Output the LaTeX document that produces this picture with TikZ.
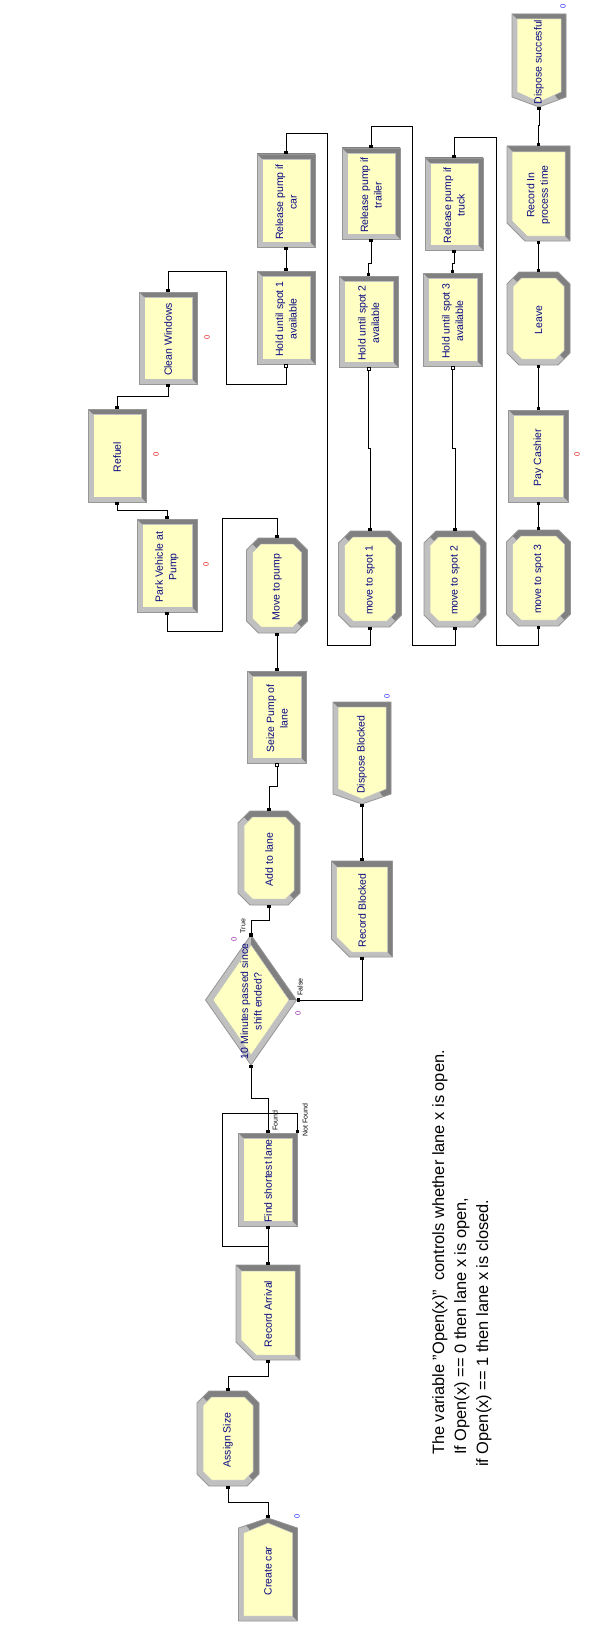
\documentclass[tikz,border=0pt]{standalone}
\usepackage{fontspec}
\setmainfont{Liberation Sans}
\usetikzlibrary{calc}

\definecolor{modfill}{RGB}{255,255,196}
\definecolor{modlight}{RGB}{192,192,192}
\definecolor{moddark}{RGB}{128,128,128}
\definecolor{modedge}{RGB}{150,150,150}
\definecolor{modtext}{RGB}{10,10,130}
\definecolor{cntblue}{RGB}{40,40,255}
\definecolor{cntred}{RGB}{230,30,30}
\definecolor{cntpurple}{RGB}{150,40,170}

\tikzset{
  modbox/.style={draw=none, inner sep=0pt, outer sep=0pt, rectangle},
  modlabel/.style={text=modtext, font=\fontsize{10.5}{13.5}\selectfont, align=center, rotate=90, inner sep=0pt},
  counter/.style={font=\fontsize{7.5}{8}\selectfont, rotate=90, inner sep=0pt},
  tag/.style={font=\fontsize{7}{8}\selectfont, rotate=90, inner sep=0pt},
  conn/.style={draw=black, line width=1pt},
  noteline/.style={font=\fontsize{16.4}{20}\selectfont, rotate=90, inner sep=0pt, anchor=base west},
}

% outlines of the module shapes (y grows downwards)
\def\rectouter{(\xa,\ya) rectangle (\xb,\yb)}
\def\rectinner{(\xa+5,\ya+5) rectangle (\xb-5,\yb-5)}
\def\octouter{(\xa+12,\ya) -- (\xb-12,\ya) -- (\xb,\ya+12) -- (\xb,\yb-12) -- (\xb-12,\yb) -- (\xa+12,\yb) -- (\xa,\yb-12) -- (\xa,\ya+12) -- cycle}
\def\octinner{(\xa+14.5,\ya+6) -- (\xb-14.5,\ya+6) -- (\xb-6,\ya+14.5) -- (\xb-6,\yb-14.5) -- (\xb-14.5,\yb-6) -- (\xa+14.5,\yb-6) -- (\xa+6,\yb-14.5) -- (\xa+6,\ya+14.5) -- cycle}
\def\recouter{(\xa,\ya) -- (\xb,\ya) -- (\xb,\yb) -- (\xa+18,\yb) -- (\xa,\yb-18) -- cycle}
\def\recinner{(\xa+5,\ya+6) -- (\xb-5,\ya+6) -- (\xb-5,\yb-5) -- (\xa+20,\yb-5) -- (\xa+5,\yb-20) -- cycle}
\def\creouter{(\xa,\ya+10) -- (\cx,\ya) -- (\xb,\ya+10) -- (\xb,\yb) -- (\xa,\yb) -- cycle}
\def\creinner{(\xa+5,\ya+15) -- (\cx,\ya+5) -- (\xb-5,\ya+15) -- (\xb-5,\yb-5) -- (\xa+5,\yb-5) -- cycle}
\def\disouter{(\xa,\ya) -- (\xb,\ya) -- (\xb,\yb-10) -- (\cx,\yb) -- (\xa,\yb-10) -- cycle}
\def\disinner{(\xa+5,\ya+5) -- (\xb-5,\ya+5) -- (\xb-5,\yb-15) -- (\cx,\yb-5) -- (\xa+5,\yb-15) -- cycle}
\def\decouter{(\cx,\ya) -- (\xb,\cy) -- (\cx,\yb) -- (\xa,\cy) -- cycle}
\def\decinner{(\cx,\ya+10) -- (\xb-7.5,\cy) -- (\cx,\yb-10) -- (\xa+7.5,\cy) -- cycle}

% shaded side of the bevel: top and right for boxes, upper right edge for the diamond
\def\rectshade{(\xa-20,\ya-20) -- (\xa+10,\ya+10) -- (\xb-10,\yb-10) -- (\xb+20,\yb+20) -- (\xb+20,\ya-20) -- cycle}
\let\octshade\rectshade
\let\recshade\rectshade
\let\creshade\rectshade
\let\disshade\rectshade
\def\decshade{(\cx,\ya-20) -- (\cx,\cy) -- (\xb+20,\cy) -- (\xb+20,\ya-20) -- cycle}

% #1 shape, #2 name, #3 cx, #4 cy, #5 width, #6 height, #7 text
\newcommand\armod[7]{%
  \pgfmathsetmacro\cx{#3}\pgfmathsetmacro\cy{#4}%
  \pgfmathsetmacro\xa{#3-#5/2}\pgfmathsetmacro\xb{#3+#5/2}%
  \pgfmathsetmacro\ya{#4-#6/2}\pgfmathsetmacro\yb{#4+#6/2}%
  \begin{scope}
    \clip \csname #1outer\endcsname;
    \fill[modlight] (\xa-20,\ya-20) rectangle (\xb+20,\yb+20);
    \fill[moddark] \csname #1shade\endcsname;
  \end{scope}
  \draw[modedge, line width=0.8pt] \csname #1outer\endcsname;
  \fill[modfill] \csname #1inner\endcsname;
  \draw[modedge!60, line width=0.5pt] \csname #1inner\endcsname;
  \node[modbox, minimum width=#5pt, minimum height=#6pt] (#2) at (#3,#4) {};
  \node[modlabel] at ([yshift=-1.5pt]#2.center) {#7};
}

% connector end markers
\newcommand\sq[1]{\fill (#1) ++(-1.6,-1.6) rectangle ++(3.2,3.2);}
\newcommand\hsq[1]{\filldraw[fill=white, draw=black, line width=0.6pt] (#1) ++(-1.6,-1.6) rectangle ++(3.2,3.2);}

\begin{document}
\begin{tikzpicture}[x=1pt, y=-1pt]
\fill[white] (0,0) rectangle (614,1640);
\useasboundingbox (0,0) rectangle (614,1640);

% ---- modules ----
\armod{cre}{createcar}{268}{1569.5}{59}{103}{Create car}
\armod{oct}{assignsize}{228}{1438.5}{62}{95}{Assign Size}
\armod{rec}{recarrival}{268}{1312.5}{64}{95}{Record Arrival}
\armod{rect}{findlane}{268}{1179.5}{59}{93}{Find shortest lane}
\armod{dec}{decide}{251}{1000}{91}{130}{10 Minutes passed since\\shift ended?}
\armod{oct}{addlane}{269}{858}{62}{94}{Add to lane}
\armod{rec}{recblocked}{362}{909}{61}{96}{Record Blocked}
\armod{dis}{dispblocked}{362}{753}{58}{102}{Dispose Blocked}
\armod{rect}{seizepump}{277}{717}{59}{92}{Seize Pump of\\lane}
\armod{oct}{movepump}{277}{585.5}{61}{95}{Move to pump}
\armod{rect}{park}{167}{565.5}{60}{93}{Park Vehicle at\\Pump}
\armod{rect}{refuel}{117}{455.5}{58}{93}{Refuel}
\armod{rect}{clean}{168}{338}{58}{92}{Clean Windows}
\armod{rect}{holda}{286}{317.5}{58}{93}{Hold until spot 1\\available}
\armod{rect}{rela}{286}{200.5}{58}{93}{Release pump if\\car}
\armod{oct}{mva}{370}{579}{63}{96}{move to spot 1}
\armod{rect}{holdb}{368.5}{321.5}{59}{91}{Hold until spot 2\\available}
\armod{rect}{relb}{371}{193.5}{58}{91}{Release pump if\\trailer}
\armod{oct}{mvb}{455}{579}{62}{96}{move to spot 2}
\armod{rect}{holdc}{452.5}{319.5}{59}{93}{Hold until spot 3\\available}
\armod{rect}{relc}{454}{204}{58}{92}{Release pump if\\truck}
\armod{oct}{mvc}{538.5}{578}{64}{96}{move to spot 3}
\armod{rect}{pay}{538.5}{456}{60}{92}{Pay Cashier}
\armod{oct}{leave}{538.5}{318.5}{63}{93}{Leave}
\armod{rec}{recproc}{538.5}{193.5}{63}{95}{Record In\\process time}
\armod{dis}{dispsucc}{539}{60.5}{54}{93}{Dispose succesful}

% ---- connectors ----
\coordinate (nfjoin) at (268,1246);
\draw[conn] (createcar.north) -- ++(0,-16) -| (assignsize.south);
\draw[conn] (assignsize.north) -- ++(0,-15) -| (recarrival.south);
\draw[conn] (recarrival.north) -- (findlane.south);
\draw[conn] (findlane.north east) -- ++(0,-20) -| ++(-75.5,133) -- (nfjoin);
\draw[conn] (findlane.north) -- ++(0,-35) -| (decide.south);
\draw[conn] (decide.north) -- ++(0,-15) -| (addlane.south);
\draw[conn] (decide.east) -| (recblocked.south);
\draw[conn] (recblocked.north) -- (dispblocked.south);
\draw[conn] (addlane.north) -- ++(0,-25) -| (seizepump.south);
\draw[conn] (seizepump.north) -- (movepump.south);
\draw[conn] (movepump.north) -- ++(0,-20) -| ++(-55,113) -| (park.south);
\draw[conn] (park.north) -- ++(0,-9) -| (refuel.south);
\draw[conn] (refuel.north) -- ++(0,-13) -| (clean.south);
\draw[conn] (clean.north) -- ++(0,-21) -| ++(58,113) -| (holda.south);
\draw[conn] (holda.north) -- (rela.south);
\draw[conn] (rela.north) -- ++(0,-20) -| ++(41,511) -| (mva.south);
\draw[conn] (mva.north) -- ++(0,-83) -| (holdb.south);
\draw[conn] (holdb.north) -- ++(0,-13) -| (relb.south);
\draw[conn] (relb.north) -- ++(0,-21) -| ++(41,518) -| (mvb.south);
\draw[conn] (mvb.north) -- ++(0,-83) -| (holdc.south);
\draw[conn] (holdc.north) -- ++(0,-10) -| (relc.south);
\draw[conn] (relc.north) -- ++(0,-20) -| ++(42,507) -| (mvc.south);
\draw[conn] (mvc.north) -- (pay.south);
\draw[conn] (pay.north) -- (leave.south);
\draw[conn] (leave.north) -- (recproc.south);
\draw[conn] (recproc.north) -- ++(0,-20) -| (dispsucc.south);

% exit markers
\foreach \m in {createcar,assignsize,recarrival,findlane,addlane,recblocked,seizepump,movepump,park,refuel,clean,holda,rela,mva,holdb,relb,mvb,holdc,relc,mvc,pay,leave,recproc}
  {\sq{[yshift=1.6pt]\m.north}}
\sq{[yshift=1.6pt]findlane.north east}
\sq{decide.north}
\sq{[xshift=1.6pt]decide.east}
% entry markers
\foreach \m in {assignsize,recarrival,findlane,decide,addlane,recblocked,dispblocked,movepump,park,refuel,clean,rela,relb,relc,mva,mvb,mvc,pay,leave,recproc,dispsucc}
  {\sq{[yshift=-1.6pt]\m.south}}
\foreach \m in {seizepump,holda,holdb,holdc}
  {\hsq{[yshift=-1.6pt]\m.south}}

% ---- branch labels ----
\node[tag] (ttrue) at (243,926) {True};
\node[tag] (tfalse) at (300,987) {False};
\node[tag] (tfound) at (275,1121) {Found};
\node[tag] (tnotfound) at (305,1120) {Not Found};

% ---- counters ----
\node[counter, text=cntblue] (c1) at (297,1516) {0};
\node[counter, text=cntpurple] (c2) at (234,939) {0};
\node[counter, text=cntpurple] (c3) at (298,1013) {0};
\node[counter, text=cntblue] (c4) at (387,696) {0};
\node[counter, text=cntred] (c5) at (206,564) {0};
\node[counter, text=cntred] (c6) at (156,454) {0};
\node[counter, text=cntred] (c7) at (207,337) {0};
\node[counter, text=cntred] (c8) at (577,454) {0};
\node[counter, text=cntblue] (c9) at (563,6) {0};

% ---- note ----
\node[noteline] (notea) at (444,1455) {The variable "Open(x)"\ \ controls whether lane x is open.};
\node[noteline] (noteb) at (466,1455) {If Open(x) == 0 then lane x is open,};
\node[noteline] (notec) at (488,1467) {if Open(x) == 1 then lane x is closed.};
\end{tikzpicture}
\end{document}
